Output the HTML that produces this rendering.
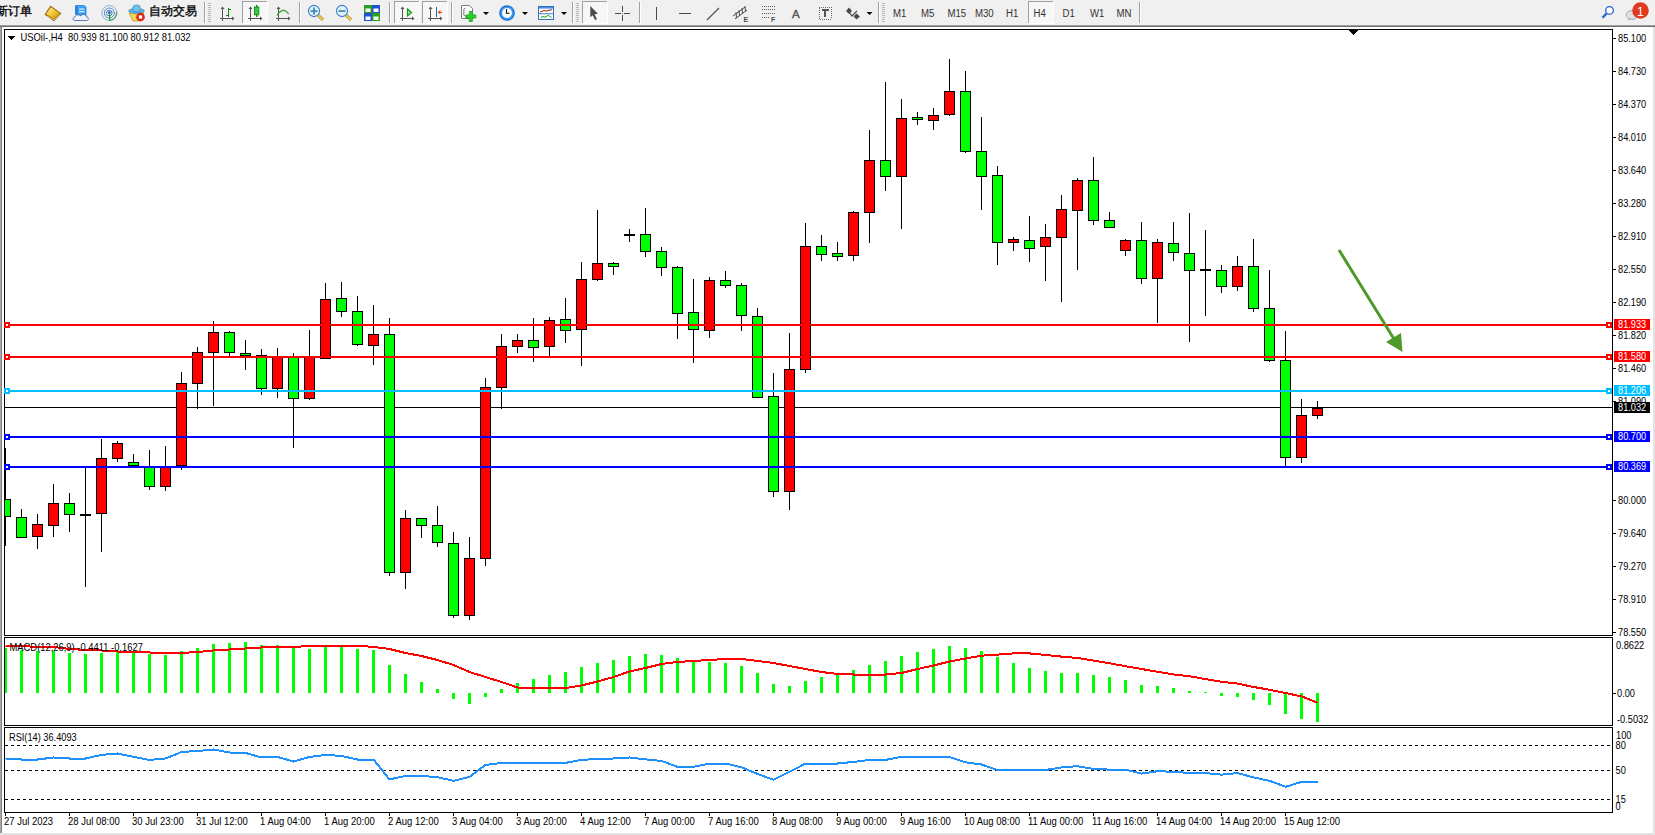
<!DOCTYPE html>
<html><head><meta charset="utf-8">
<style>
html,body{margin:0;padding:0;width:1655px;height:835px;overflow:hidden;background:#f0f0f0;}
svg{display:block;font-family:"Liberation Sans",sans-serif;}
.t{font-size:11px;fill:#000;}
</style></head><body>
<svg width="1655" height="835" viewBox="0 0 1655 835" shape-rendering="crispEdges">
<!-- toolbar -->
<rect x="0" y="0" width="1655" height="25" fill="#f0f0f0"/>
<g id="toolbar"><text x="-4" y="15" font-size="12" font-weight="600" fill="#1a1a1a">新订单</text>
<defs><linearGradient id="bk" x1="0" y1="0" x2="1" y2="1"><stop offset="0" stop-color="#fff0a0"/><stop offset="0.5" stop-color="#f0c830"/><stop offset="1" stop-color="#c89010"/></linearGradient></defs><g shape-rendering="auto"><polygon points="45,14.5 50.5,6 61,13.5 54,21" fill="#b07818" stroke="#9a6010" stroke-width="0.8"/><polygon points="46.3,14 50.8,7.3 59.5,13.3 54,18.8" fill="url(#bk)"/><polyline points="47,16 54,20 60,14.5" fill="none" stroke="#f8e0a0" stroke-width="0.7"/></g>
<g shape-rendering="auto"><polygon points="75.5,5.5 84,5.5 86,7 86,16 77.5,16 75.5,14" fill="#3aa0f8" stroke="#1a70d0" stroke-width="0.7"/><polygon points="75.5,5.5 77.5,7 77.5,16 75.5,14" fill="#1a80e8"/><rect x="79" y="8.5" width="5.5" height="1.2" fill="#d8f0ff"/><rect x="79" y="11" width="5.5" height="1.2" fill="#d8f0ff"/><path d="M75,20.5 C72.5,20.5 72.5,17 75,17 C75.5,14.5 79,14 80.5,16 C82,13.5 86.5,14 86.5,17 C89,17 89,20.5 86.5,20.5 Z" fill="#eef2fa" stroke="#4a6aa8" stroke-width="0.9"/></g>
<g shape-rendering="auto" fill="none"><circle cx="109.3" cy="13" r="7.5" stroke="#5a8ad0" stroke-width="0.9" opacity="0.7"/><circle cx="109.3" cy="13" r="5" stroke="#4a7ad0" stroke-width="0.9"/><circle cx="109.3" cy="13" r="2.8" stroke="#3a6ad0" stroke-width="0.9"/><path d="M110,20.5 A7.5,7.5 0 0 0 116.5,12" stroke="#60a860" stroke-width="1.5"/><circle cx="109.3" cy="12.6" r="1.3" fill="#1848c0"/><rect x="109" y="12.6" width="1.2" height="8.2" fill="#18a018"/></g>
<g shape-rendering="auto"><path d="M129,13 L144,13 L140,21 L133,21 Z" fill="#f0d850" stroke="#c0a030" stroke-width="0.8"/><ellipse cx="136.5" cy="11" rx="7.8" ry="2.6" fill="#60b0e0" stroke="#3a88c0" stroke-width="0.7"/><ellipse cx="136.5" cy="8.5" rx="4" ry="3.6" fill="#70c0f0" stroke="#3a88c0" stroke-width="0.7"/><circle cx="140.5" cy="17" r="4.3" fill="#e02010"/><rect x="138.8" y="15.3" width="3.4" height="3.4" fill="#fff"/></g>
<text x="148.5" y="15" font-size="12" font-weight="600" fill="#1a1a1a">自动交易</text>
<rect x="204" y="2" width="1" height="21" fill="#a0a0a0"/><rect x="205" y="2" width="1" height="21" fill="#ffffff"/>
<rect x="208" y="3" width="3" height="1" fill="#b8b8b8"/>
<rect x="208" y="5" width="3" height="1" fill="#b8b8b8"/>
<rect x="208" y="7" width="3" height="1" fill="#b8b8b8"/>
<rect x="208" y="9" width="3" height="1" fill="#b8b8b8"/>
<rect x="208" y="11" width="3" height="1" fill="#b8b8b8"/>
<rect x="208" y="13" width="3" height="1" fill="#b8b8b8"/>
<rect x="208" y="15" width="3" height="1" fill="#b8b8b8"/>
<rect x="208" y="17" width="3" height="1" fill="#b8b8b8"/>
<rect x="208" y="19" width="3" height="1" fill="#b8b8b8"/>
<rect x="208" y="21" width="3" height="1" fill="#b8b8b8"/>
<g fill="#555"><rect x="222" y="7" width="1" height="14"/><polygon points="220.5,9 222.5,6.5 224.5,9" shape-rendering="auto"/><rect x="220" y="18" width="14" height="1"/><polygon points="232,16.5 234.5,18.5 232,20.5" shape-rendering="auto"/></g>
<g fill="#108a10"><rect x="228" y="8" width="1" height="9"/><rect x="226" y="15" width="2" height="1"/><rect x="229" y="9" width="2" height="1"/></g>
<rect x="242" y="1" width="25" height="22" fill="#f7f7f7"/>
<rect x="242" y="1" width="25" height="1" fill="#a0a0a0"/>
<rect x="242" y="1" width="1" height="22" fill="#a0a0a0"/>
<rect x="267" y="1" width="1" height="23" fill="#ffffff"/>
<rect x="242" y="23" width="25" height="1" fill="#ffffff"/>
<g fill="#555"><rect x="250" y="7" width="1" height="14"/><polygon points="248.5,9 250.5,6.5 252.5,9" shape-rendering="auto"/><rect x="248" y="18" width="14" height="1"/><polygon points="260,16.5 262.5,18.5 260,20.5" shape-rendering="auto"/></g>
<g shape-rendering="auto"><rect x="256" y="5" width="1.4" height="12" fill="#108a10"/><rect x="254.5" y="7" width="4.3" height="7.8" fill="#30d040" stroke="#108a10" stroke-width="0.9"/></g>
<g fill="#555"><rect x="278" y="7" width="1" height="14"/><polygon points="276.5,9 278.5,6.5 280.5,9" shape-rendering="auto"/><rect x="276" y="18" width="14" height="1"/><polygon points="288,16.5 290.5,18.5 288,20.5" shape-rendering="auto"/></g>
<path d="M277,15.5 Q283,6 288.7,14" fill="none" stroke="#30a030" stroke-width="1.2" shape-rendering="auto"/>
<rect x="299" y="2" width="1" height="21" fill="#a0a0a0"/><rect x="300" y="2" width="1" height="21" fill="#ffffff"/>
<g shape-rendering="auto"><line x1="318" y1="15" x2="323" y2="19.8" stroke="#b08010" stroke-width="3"/><line x1="318" y1="15" x2="323" y2="19.8" stroke="#f0d860" stroke-width="1.6"/><circle cx="314" cy="11" r="5.6" fill="#dff2fc" stroke="#3a80c8" stroke-width="1.1"/><rect x="310.5" y="10.2" width="7" height="1.8" fill="#4a88b0"/><rect x="313.1" y="7.5" width="1.8" height="7" fill="#4a88b0"/></g>
<g shape-rendering="auto"><line x1="346" y1="15" x2="351" y2="19.8" stroke="#b08010" stroke-width="3"/><line x1="346" y1="15" x2="351" y2="19.8" stroke="#f0d860" stroke-width="1.6"/><circle cx="342" cy="11" r="5.6" fill="#dff2fc" stroke="#3a80c8" stroke-width="1.1"/><rect x="338.5" y="10.2" width="7" height="1.8" fill="#4a88b0"/></g>
<rect x="364" y="5" width="8" height="8" fill="#28a020"/><rect x="365.5" y="8.5" width="5" height="3.5" fill="#fff" shape-rendering="auto"/>
<rect x="372" y="5" width="8" height="8" fill="#2050d0"/><rect x="373.5" y="8.5" width="5" height="3.5" fill="#fff" shape-rendering="auto"/>
<rect x="364" y="13" width="8" height="8" fill="#2050d0"/><rect x="365.5" y="16.5" width="5" height="3.5" fill="#fff" shape-rendering="auto"/>
<rect x="372" y="13" width="8" height="8" fill="#28a020"/><rect x="373.5" y="16.5" width="5" height="3.5" fill="#fff" shape-rendering="auto"/>
<rect x="389" y="2" width="1" height="21" fill="#a0a0a0"/><rect x="390" y="2" width="1" height="21" fill="#ffffff"/>
<rect x="394" y="1" width="25" height="22" fill="#f7f7f7"/>
<rect x="394" y="1" width="25" height="1" fill="#a0a0a0"/>
<rect x="394" y="1" width="1" height="22" fill="#a0a0a0"/>
<rect x="419" y="1" width="1" height="23" fill="#ffffff"/>
<rect x="394" y="23" width="25" height="1" fill="#ffffff"/>
<g fill="#555"><rect x="402" y="7" width="1" height="14"/><polygon points="400.5,9 402.5,6.5 404.5,9" shape-rendering="auto"/><rect x="400" y="18" width="14" height="1"/><polygon points="412,16.5 414.5,18.5 412,20.5" shape-rendering="auto"/></g>
<polygon points="407.5,9 411.5,12.5 407.5,16" fill="#a0e0a0" stroke="#10a010" stroke-width="1.2" shape-rendering="auto"/>
<rect x="422" y="1" width="25" height="22" fill="#f7f7f7"/>
<rect x="422" y="1" width="25" height="1" fill="#a0a0a0"/>
<rect x="422" y="1" width="1" height="22" fill="#a0a0a0"/>
<rect x="447" y="1" width="1" height="23" fill="#ffffff"/>
<rect x="422" y="23" width="25" height="1" fill="#ffffff"/>
<g fill="#555"><rect x="430" y="7" width="1" height="14"/><polygon points="428.5,9 430.5,6.5 432.5,9" shape-rendering="auto"/><rect x="428" y="18" width="14" height="1"/><polygon points="440,16.5 442.5,18.5 440,20.5" shape-rendering="auto"/></g>
<rect x="435.7" y="7" width="1.3" height="10" fill="#1870b0"/><polygon points="437.5,12.3 440.5,10 440,11.7 442,11.7 442,12.9 440,12.9 440.5,14.6" fill="#e05010" shape-rendering="auto"/>
<rect x="451" y="2" width="1" height="21" fill="#a0a0a0"/><rect x="452" y="2" width="1" height="21" fill="#ffffff"/>
<g shape-rendering="auto"><path d="M461.5,5.5 L469.5,5.5 L472.5,8.5 L472.5,18.5 L461.5,18.5 Z" fill="#fafafa" stroke="#707070" stroke-width="0.9"/><path d="M465,8 Q463,9 464,12 Q463,14 464.5,16" fill="none" stroke="#555" stroke-width="0.8"/><path d="M469.3,11.5 h3 v3.5 h3.5 v3 h-3.5 v3.5 h-3 v-3.5 h-3.5 v-3 h3.5 Z" fill="#30d030" stroke="#10a010" stroke-width="0.8"/></g>
<polygon points="483,12 489,12 486,15" fill="#000" shape-rendering="auto"/>
<g shape-rendering="auto"><circle cx="507" cy="13" r="7.8" fill="#1a6cd0"/><circle cx="507" cy="13" r="6.6" fill="#3a9af0"/><circle cx="507" cy="13" r="5" fill="#f8f8f8"/><path d="M506.5,9 L506.5,13.3 L509.5,13.3" fill="none" stroke="#111" stroke-width="1.1"/></g>
<polygon points="522,12 528,12 525,15" fill="#000" shape-rendering="auto"/>
<g shape-rendering="auto"><rect x="538.5" y="6.5" width="15" height="13" fill="#fff" stroke="#3070c0" stroke-width="1"/><rect x="539" y="7" width="14" height="1.6" fill="#5090d8"/><rect x="539" y="13.3" width="14" height="0.9" fill="#3070c0"/><polyline points="540,12 542,11.5 544,10.3 546,11.2 548,10.5 550,10 552,9.8" fill="none" stroke="#a02010" stroke-width="1"/><polyline points="541,17.5 543,16.5 545,17.2 547,16 548.5,15.3 550,16.5 551.5,17.3" fill="none" stroke="#10a020" stroke-width="1"/></g>
<polygon points="561,12 567,12 564,15" fill="#000" shape-rendering="auto"/>
<rect x="572" y="2" width="1" height="21" fill="#a0a0a0"/><rect x="573" y="2" width="1" height="21" fill="#ffffff"/>
<rect x="576" y="3" width="3" height="1" fill="#b8b8b8"/>
<rect x="576" y="5" width="3" height="1" fill="#b8b8b8"/>
<rect x="576" y="7" width="3" height="1" fill="#b8b8b8"/>
<rect x="576" y="9" width="3" height="1" fill="#b8b8b8"/>
<rect x="576" y="11" width="3" height="1" fill="#b8b8b8"/>
<rect x="576" y="13" width="3" height="1" fill="#b8b8b8"/>
<rect x="576" y="15" width="3" height="1" fill="#b8b8b8"/>
<rect x="576" y="17" width="3" height="1" fill="#b8b8b8"/>
<rect x="576" y="19" width="3" height="1" fill="#b8b8b8"/>
<rect x="576" y="21" width="3" height="1" fill="#b8b8b8"/>
<rect x="582" y="1" width="25" height="22" fill="#f7f7f7"/>
<rect x="582" y="1" width="25" height="1" fill="#a0a0a0"/>
<rect x="582" y="1" width="1" height="22" fill="#a0a0a0"/>
<rect x="607" y="1" width="1" height="23" fill="#ffffff"/>
<rect x="582" y="23" width="25" height="1" fill="#ffffff"/>
<polygon points="590.3,5.9 597.9,13.7 594.6,14.2 596.9,19.3 595,20.1 592.7,15.2 590.3,17.2" fill="#4a4a4a" shape-rendering="auto"/>
<g fill="#4a4a4a"><rect x="615" y="13" width="6" height="1"/><rect x="624" y="13" width="6" height="1"/><rect x="622" y="6" width="1" height="6" /><rect x="622" y="15" width="1" height="6"/></g>
<rect x="622" y="13" width="1" height="1" fill="#888"/>
<rect x="639" y="2" width="1" height="21" fill="#a0a0a0"/><rect x="640" y="2" width="1" height="21" fill="#ffffff"/>
<rect x="656" y="7" width="1" height="13" fill="#4a4a4a"/>
<rect x="679" y="13" width="12" height="1" fill="#4a4a4a"/>
<line x1="707" y1="20" x2="719" y2="8" stroke="#4a4a4a" stroke-width="1.1" shape-rendering="auto"/>
<g shape-rendering="auto" stroke="#4a4a4a" stroke-width="1" fill="none"><line x1="733" y1="16" x2="745" y2="7"/><line x1="735" y1="19" x2="747" y2="10"/><line x1="736" y1="12" x2="736.5" y2="18"/><line x1="739" y1="10" x2="739.5" y2="16"/><line x1="742" y1="8" x2="742.5" y2="14"/><line x1="745" y1="6" x2="745.5" y2="11"/></g>
<text x="743.5" y="22" font-size="7" font-weight="bold" fill="#4a4a4a">E</text>
<g stroke="#5a5a5a" stroke-width="1" stroke-dasharray="1,1"><line x1="762" y1="6.5" x2="775" y2="6.5"/><line x1="762" y1="9.5" x2="775" y2="9.5"/><line x1="762" y1="13.5" x2="775" y2="13.5"/><line x1="762" y1="17.5" x2="770" y2="17.5"/></g>
<text x="771" y="22" font-size="7" font-weight="bold" fill="#4a4a4a">F</text>
<text x="792" y="18" font-size="11.5" fill="#555" stroke="#555" stroke-width="0.4">A</text>
<rect x="819" y="7" width="12" height="12" fill="none" stroke="#6a6a6a" stroke-width="1" stroke-dasharray="1,1"/><rect x="821.5" y="9" width="7" height="1.8" fill="#555"/><rect x="824.2" y="9" width="1.8" height="8" fill="#555"/>
<g shape-rendering="auto" fill="#4a4a4a"><polygon points="846,11 849,7.5 852,11 849,14"/><polyline points="849,12 852,16 857,11" fill="none" stroke="#4a4a4a" stroke-width="1.2"/><polygon points="853.5,16.5 856.5,13.5 860,16.5 856.5,19.5"/></g>
<polygon points="866.5,12 872.5,12 869.5,15" fill="#000" shape-rendering="auto"/>
<rect x="878" y="2" width="1" height="21" fill="#a0a0a0"/><rect x="879" y="2" width="1" height="21" fill="#ffffff"/>
<rect x="882" y="3" width="3" height="1" fill="#b8b8b8"/>
<rect x="882" y="5" width="3" height="1" fill="#b8b8b8"/>
<rect x="882" y="7" width="3" height="1" fill="#b8b8b8"/>
<rect x="882" y="9" width="3" height="1" fill="#b8b8b8"/>
<rect x="882" y="11" width="3" height="1" fill="#b8b8b8"/>
<rect x="882" y="13" width="3" height="1" fill="#b8b8b8"/>
<rect x="882" y="15" width="3" height="1" fill="#b8b8b8"/>
<rect x="882" y="17" width="3" height="1" fill="#b8b8b8"/>
<rect x="882" y="19" width="3" height="1" fill="#b8b8b8"/>
<rect x="882" y="21" width="3" height="1" fill="#b8b8b8"/>
<text transform="translate(893,17) scale(0.96,1)" font-size="10" fill="#333" >M1</text>
<text transform="translate(921,17) scale(0.96,1)" font-size="10" fill="#333" >M5</text>
<text transform="translate(947.5,17) scale(0.96,1)" font-size="10" fill="#333" >M15</text>
<text transform="translate(975,17) scale(0.96,1)" font-size="10" fill="#333" >M30</text>
<text transform="translate(1006,17) scale(0.96,1)" font-size="10" fill="#333" >H1</text>
<text transform="translate(1062.5,17) scale(0.96,1)" font-size="10" fill="#333" >D1</text>
<text transform="translate(1090,17) scale(0.96,1)" font-size="10" fill="#333" >W1</text>
<text transform="translate(1116.5,17) scale(0.96,1)" font-size="10" fill="#333" >MN</text>
<rect x="1028" y="1" width="25" height="22" fill="#f7f7f7"/>
<rect x="1028" y="1" width="25" height="1" fill="#a0a0a0"/>
<rect x="1028" y="1" width="1" height="22" fill="#a0a0a0"/>
<rect x="1053" y="1" width="1" height="23" fill="#ffffff"/>
<rect x="1028" y="23" width="25" height="1" fill="#ffffff"/>
<text transform="translate(1033.5,17) scale(0.96,1)" font-size="10" fill="#333" >H4</text>
<rect x="1139" y="2" width="1" height="21" fill="#a0a0a0"/><rect x="1140" y="2" width="1" height="21" fill="#ffffff"/>
<g shape-rendering="auto"><circle cx="1609.5" cy="10.4" r="3.8" fill="#fff" stroke="#2060d0" stroke-width="1.3"/><line x1="1606.5" y1="13.5" x2="1602.5" y2="17.8" stroke="#2060d0" stroke-width="2.2"/></g>
<g shape-rendering="auto"><ellipse cx="1632" cy="15" rx="5.8" ry="4.5" fill="#dde0e8" stroke="#9a9a9a" stroke-width="0.8"/><polygon points="1628,18 1630,18.5 1628.5,21" fill="#aaa"/><circle cx="1640.5" cy="10.5" r="8.3" fill="#e03a20"/><text x="1637" y="15.5" font-size="12" fill="#fff">1</text></g></g>
<rect x="0" y="25" width="1655" height="1" fill="#a0a0a0"/>
<rect x="0" y="26" width="1655" height="1" fill="#707070"/>
<!-- window frame -->
<rect x="0" y="27" width="1655" height="808" fill="#ffffff"/>
<rect x="0" y="27" width="1" height="807" fill="#a8a8a8"/>
<rect x="1" y="27" width="1" height="807" fill="#808080"/>
<rect x="1653" y="27" width="2" height="807" fill="#e3e3e3"/>
<rect x="0" y="833" width="1655" height="2" fill="#e3e3e3"/>
<!-- chart borders -->
<rect x="4.5" y="29.5" width="1608" height="606" fill="none" stroke="#000" stroke-width="1"/>
<rect x="4.5" y="637.5" width="1608" height="88" fill="none" stroke="#000" stroke-width="1"/>
<rect x="4.5" y="727.5" width="1608" height="85" fill="none" stroke="#000" stroke-width="1"/>
<svg x="5" y="30" width="1607" height="605" viewBox="5 30 1607 605" overflow="hidden">
<rect x="5" y="407" width="1608" height="1" fill="#000"/>
<rect x="5" y="448" width="1" height="98" fill="#000"/>
<rect x="0" y="499" width="11" height="18" fill="#000"/>
<rect x="1" y="500" width="9" height="16" fill="#00ff00"/>
<rect x="21" y="509" width="1" height="29" fill="#000"/>
<rect x="16" y="517" width="11" height="21" fill="#000"/>
<rect x="17" y="518" width="9" height="19" fill="#00ff00"/>
<rect x="37" y="514" width="1" height="35" fill="#000"/>
<rect x="32" y="524" width="11" height="13" fill="#000"/>
<rect x="33" y="525" width="9" height="11" fill="#ff0000"/>
<rect x="53" y="484" width="1" height="53" fill="#000"/>
<rect x="48" y="503" width="11" height="23" fill="#000"/>
<rect x="49" y="504" width="9" height="21" fill="#ff0000"/>
<rect x="69" y="493" width="1" height="39" fill="#000"/>
<rect x="64" y="503" width="11" height="12" fill="#000"/>
<rect x="65" y="504" width="9" height="10" fill="#00ff00"/>
<rect x="85" y="468" width="1" height="119" fill="#000"/>
<rect x="80" y="514" width="11" height="2" fill="#000"/>
<rect x="101" y="439" width="1" height="113" fill="#000"/>
<rect x="96" y="458" width="11" height="56" fill="#000"/>
<rect x="97" y="459" width="9" height="54" fill="#ff0000"/>
<rect x="117" y="441" width="1" height="21" fill="#000"/>
<rect x="112" y="443" width="11" height="16" fill="#000"/>
<rect x="113" y="444" width="9" height="14" fill="#ff0000"/>
<rect x="133" y="454" width="1" height="12" fill="#000"/>
<rect x="128" y="462" width="11" height="4" fill="#000"/>
<rect x="129" y="463" width="9" height="2" fill="#00ff00"/>
<rect x="149" y="450" width="1" height="40" fill="#000"/>
<rect x="144" y="467" width="11" height="20" fill="#000"/>
<rect x="145" y="468" width="9" height="18" fill="#00ff00"/>
<rect x="165" y="446" width="1" height="45" fill="#000"/>
<rect x="160" y="467" width="11" height="20" fill="#000"/>
<rect x="161" y="468" width="9" height="18" fill="#ff0000"/>
<rect x="181" y="372" width="1" height="98" fill="#000"/>
<rect x="176" y="383" width="11" height="83" fill="#000"/>
<rect x="177" y="384" width="9" height="81" fill="#ff0000"/>
<rect x="197" y="347" width="1" height="62" fill="#000"/>
<rect x="192" y="352" width="11" height="32" fill="#000"/>
<rect x="193" y="353" width="9" height="30" fill="#ff0000"/>
<rect x="213" y="321" width="1" height="85" fill="#000"/>
<rect x="208" y="332" width="11" height="21" fill="#000"/>
<rect x="209" y="333" width="9" height="19" fill="#ff0000"/>
<rect x="229" y="331" width="1" height="25" fill="#000"/>
<rect x="224" y="332" width="11" height="21" fill="#000"/>
<rect x="225" y="333" width="9" height="19" fill="#00ff00"/>
<rect x="245" y="340" width="1" height="30" fill="#000"/>
<rect x="240" y="353" width="11" height="3" fill="#000"/>
<rect x="241" y="354" width="9" height="1" fill="#00ff00"/>
<rect x="261" y="349" width="1" height="46" fill="#000"/>
<rect x="256" y="355" width="11" height="34" fill="#000"/>
<rect x="257" y="356" width="9" height="32" fill="#00ff00"/>
<rect x="277" y="348" width="1" height="50" fill="#000"/>
<rect x="272" y="356" width="11" height="33" fill="#000"/>
<rect x="273" y="357" width="9" height="31" fill="#ff0000"/>
<rect x="293" y="353" width="1" height="95" fill="#000"/>
<rect x="288" y="357" width="11" height="42" fill="#000"/>
<rect x="289" y="358" width="9" height="40" fill="#00ff00"/>
<rect x="309" y="330" width="1" height="70" fill="#000"/>
<rect x="304" y="356" width="11" height="43" fill="#000"/>
<rect x="305" y="357" width="9" height="41" fill="#ff0000"/>
<rect x="325" y="283" width="1" height="75" fill="#000"/>
<rect x="320" y="299" width="11" height="60" fill="#000"/>
<rect x="321" y="300" width="9" height="58" fill="#ff0000"/>
<rect x="341" y="282" width="1" height="35" fill="#000"/>
<rect x="336" y="298" width="11" height="14" fill="#000"/>
<rect x="337" y="299" width="9" height="12" fill="#00ff00"/>
<rect x="357" y="296" width="1" height="50" fill="#000"/>
<rect x="352" y="311" width="11" height="34" fill="#000"/>
<rect x="353" y="312" width="9" height="32" fill="#00ff00"/>
<rect x="373" y="305" width="1" height="60" fill="#000"/>
<rect x="368" y="334" width="11" height="12" fill="#000"/>
<rect x="369" y="335" width="9" height="10" fill="#ff0000"/>
<rect x="389" y="318" width="1" height="258" fill="#000"/>
<rect x="384" y="334" width="11" height="239" fill="#000"/>
<rect x="385" y="335" width="9" height="237" fill="#00ff00"/>
<rect x="405" y="510" width="1" height="79" fill="#000"/>
<rect x="400" y="518" width="11" height="55" fill="#000"/>
<rect x="401" y="519" width="9" height="53" fill="#ff0000"/>
<rect x="421" y="518" width="1" height="20" fill="#000"/>
<rect x="416" y="518" width="11" height="8" fill="#000"/>
<rect x="417" y="519" width="9" height="6" fill="#00ff00"/>
<rect x="437" y="506" width="1" height="41" fill="#000"/>
<rect x="432" y="525" width="11" height="18" fill="#000"/>
<rect x="433" y="526" width="9" height="16" fill="#00ff00"/>
<rect x="453" y="532" width="1" height="86" fill="#000"/>
<rect x="448" y="543" width="11" height="73" fill="#000"/>
<rect x="449" y="544" width="9" height="71" fill="#00ff00"/>
<rect x="469" y="537" width="1" height="83" fill="#000"/>
<rect x="464" y="558" width="11" height="58" fill="#000"/>
<rect x="465" y="559" width="9" height="56" fill="#ff0000"/>
<rect x="485" y="378" width="1" height="188" fill="#000"/>
<rect x="480" y="387" width="11" height="172" fill="#000"/>
<rect x="481" y="388" width="9" height="170" fill="#ff0000"/>
<rect x="501" y="334" width="1" height="75" fill="#000"/>
<rect x="496" y="346" width="11" height="42" fill="#000"/>
<rect x="497" y="347" width="9" height="40" fill="#ff0000"/>
<rect x="517" y="334" width="1" height="19" fill="#000"/>
<rect x="512" y="340" width="11" height="7" fill="#000"/>
<rect x="513" y="341" width="9" height="5" fill="#ff0000"/>
<rect x="533" y="318" width="1" height="44" fill="#000"/>
<rect x="528" y="340" width="11" height="8" fill="#000"/>
<rect x="529" y="341" width="9" height="6" fill="#00ff00"/>
<rect x="549" y="317" width="1" height="39" fill="#000"/>
<rect x="544" y="320" width="11" height="27" fill="#000"/>
<rect x="545" y="321" width="9" height="25" fill="#ff0000"/>
<rect x="565" y="298" width="1" height="45" fill="#000"/>
<rect x="560" y="319" width="11" height="12" fill="#000"/>
<rect x="561" y="320" width="9" height="10" fill="#00ff00"/>
<rect x="581" y="262" width="1" height="104" fill="#000"/>
<rect x="576" y="279" width="11" height="51" fill="#000"/>
<rect x="577" y="280" width="9" height="49" fill="#ff0000"/>
<rect x="597" y="210" width="1" height="71" fill="#000"/>
<rect x="592" y="263" width="11" height="17" fill="#000"/>
<rect x="593" y="264" width="9" height="15" fill="#ff0000"/>
<rect x="613" y="262" width="1" height="13" fill="#000"/>
<rect x="608" y="263" width="11" height="4" fill="#000"/>
<rect x="609" y="264" width="9" height="2" fill="#00ff00"/>
<rect x="629" y="229" width="1" height="13" fill="#000"/>
<rect x="624" y="234" width="11" height="2" fill="#000"/>
<rect x="645" y="208" width="1" height="49" fill="#000"/>
<rect x="640" y="234" width="11" height="18" fill="#000"/>
<rect x="641" y="235" width="9" height="16" fill="#00ff00"/>
<rect x="661" y="247" width="1" height="29" fill="#000"/>
<rect x="656" y="251" width="11" height="17" fill="#000"/>
<rect x="657" y="252" width="9" height="15" fill="#00ff00"/>
<rect x="677" y="266" width="1" height="73" fill="#000"/>
<rect x="672" y="267" width="11" height="47" fill="#000"/>
<rect x="673" y="268" width="9" height="45" fill="#00ff00"/>
<rect x="693" y="279" width="1" height="84" fill="#000"/>
<rect x="688" y="312" width="11" height="18" fill="#000"/>
<rect x="689" y="313" width="9" height="16" fill="#00ff00"/>
<rect x="709" y="277" width="1" height="61" fill="#000"/>
<rect x="704" y="280" width="11" height="51" fill="#000"/>
<rect x="705" y="281" width="9" height="49" fill="#ff0000"/>
<rect x="725" y="271" width="1" height="17" fill="#000"/>
<rect x="720" y="280" width="11" height="6" fill="#000"/>
<rect x="721" y="281" width="9" height="4" fill="#00ff00"/>
<rect x="741" y="283" width="1" height="48" fill="#000"/>
<rect x="736" y="285" width="11" height="31" fill="#000"/>
<rect x="737" y="286" width="9" height="29" fill="#00ff00"/>
<rect x="757" y="308" width="1" height="89" fill="#000"/>
<rect x="752" y="316" width="11" height="82" fill="#000"/>
<rect x="753" y="317" width="9" height="80" fill="#00ff00"/>
<rect x="773" y="373" width="1" height="124" fill="#000"/>
<rect x="768" y="396" width="11" height="96" fill="#000"/>
<rect x="769" y="397" width="9" height="94" fill="#00ff00"/>
<rect x="789" y="333" width="1" height="177" fill="#000"/>
<rect x="784" y="369" width="11" height="123" fill="#000"/>
<rect x="785" y="370" width="9" height="121" fill="#ff0000"/>
<rect x="805" y="223" width="1" height="150" fill="#000"/>
<rect x="800" y="246" width="11" height="124" fill="#000"/>
<rect x="801" y="247" width="9" height="122" fill="#ff0000"/>
<rect x="821" y="235" width="1" height="26" fill="#000"/>
<rect x="816" y="246" width="11" height="9" fill="#000"/>
<rect x="817" y="247" width="9" height="7" fill="#00ff00"/>
<rect x="837" y="242" width="1" height="19" fill="#000"/>
<rect x="832" y="253" width="11" height="4" fill="#000"/>
<rect x="833" y="254" width="9" height="2" fill="#00ff00"/>
<rect x="853" y="211" width="1" height="50" fill="#000"/>
<rect x="848" y="212" width="11" height="44" fill="#000"/>
<rect x="849" y="213" width="9" height="42" fill="#ff0000"/>
<rect x="869" y="130" width="1" height="113" fill="#000"/>
<rect x="864" y="160" width="11" height="53" fill="#000"/>
<rect x="865" y="161" width="9" height="51" fill="#ff0000"/>
<rect x="885" y="82" width="1" height="109" fill="#000"/>
<rect x="880" y="160" width="11" height="17" fill="#000"/>
<rect x="881" y="161" width="9" height="15" fill="#00ff00"/>
<rect x="901" y="99" width="1" height="130" fill="#000"/>
<rect x="896" y="118" width="11" height="59" fill="#000"/>
<rect x="897" y="119" width="9" height="57" fill="#ff0000"/>
<rect x="917" y="112" width="1" height="13" fill="#000"/>
<rect x="912" y="117" width="11" height="3" fill="#000"/>
<rect x="913" y="118" width="9" height="1" fill="#00ff00"/>
<rect x="933" y="108" width="1" height="22" fill="#000"/>
<rect x="928" y="115" width="11" height="6" fill="#000"/>
<rect x="929" y="116" width="9" height="4" fill="#ff0000"/>
<rect x="949" y="59" width="1" height="57" fill="#000"/>
<rect x="944" y="91" width="11" height="24" fill="#000"/>
<rect x="945" y="92" width="9" height="22" fill="#ff0000"/>
<rect x="965" y="71" width="1" height="82" fill="#000"/>
<rect x="960" y="91" width="11" height="61" fill="#000"/>
<rect x="961" y="92" width="9" height="59" fill="#00ff00"/>
<rect x="981" y="117" width="1" height="93" fill="#000"/>
<rect x="976" y="151" width="11" height="26" fill="#000"/>
<rect x="977" y="152" width="9" height="24" fill="#00ff00"/>
<rect x="997" y="166" width="1" height="99" fill="#000"/>
<rect x="992" y="175" width="11" height="68" fill="#000"/>
<rect x="993" y="176" width="9" height="66" fill="#00ff00"/>
<rect x="1013" y="237" width="1" height="14" fill="#000"/>
<rect x="1008" y="239" width="11" height="4" fill="#000"/>
<rect x="1009" y="240" width="9" height="2" fill="#ff0000"/>
<rect x="1029" y="216" width="1" height="46" fill="#000"/>
<rect x="1024" y="240" width="11" height="9" fill="#000"/>
<rect x="1025" y="241" width="9" height="7" fill="#00ff00"/>
<rect x="1045" y="224" width="1" height="57" fill="#000"/>
<rect x="1040" y="237" width="11" height="10" fill="#000"/>
<rect x="1041" y="238" width="9" height="8" fill="#ff0000"/>
<rect x="1061" y="195" width="1" height="107" fill="#000"/>
<rect x="1056" y="209" width="11" height="29" fill="#000"/>
<rect x="1057" y="210" width="9" height="27" fill="#ff0000"/>
<rect x="1077" y="178" width="1" height="92" fill="#000"/>
<rect x="1072" y="180" width="11" height="31" fill="#000"/>
<rect x="1073" y="181" width="9" height="29" fill="#ff0000"/>
<rect x="1093" y="157" width="1" height="68" fill="#000"/>
<rect x="1088" y="180" width="11" height="41" fill="#000"/>
<rect x="1089" y="181" width="9" height="39" fill="#00ff00"/>
<rect x="1109" y="212" width="1" height="15" fill="#000"/>
<rect x="1104" y="220" width="11" height="8" fill="#000"/>
<rect x="1105" y="221" width="9" height="6" fill="#00ff00"/>
<rect x="1125" y="239" width="1" height="17" fill="#000"/>
<rect x="1120" y="240" width="11" height="11" fill="#000"/>
<rect x="1121" y="241" width="9" height="9" fill="#ff0000"/>
<rect x="1141" y="222" width="1" height="62" fill="#000"/>
<rect x="1136" y="240" width="11" height="39" fill="#000"/>
<rect x="1137" y="241" width="9" height="37" fill="#00ff00"/>
<rect x="1157" y="239" width="1" height="84" fill="#000"/>
<rect x="1152" y="242" width="11" height="37" fill="#000"/>
<rect x="1153" y="243" width="9" height="35" fill="#ff0000"/>
<rect x="1173" y="222" width="1" height="39" fill="#000"/>
<rect x="1168" y="243" width="11" height="10" fill="#000"/>
<rect x="1169" y="244" width="9" height="8" fill="#00ff00"/>
<rect x="1189" y="213" width="1" height="129" fill="#000"/>
<rect x="1184" y="253" width="11" height="18" fill="#000"/>
<rect x="1185" y="254" width="9" height="16" fill="#00ff00"/>
<rect x="1205" y="230" width="1" height="86" fill="#000"/>
<rect x="1200" y="269" width="11" height="2" fill="#000"/>
<rect x="1221" y="265" width="1" height="28" fill="#000"/>
<rect x="1216" y="270" width="11" height="17" fill="#000"/>
<rect x="1217" y="271" width="9" height="15" fill="#00ff00"/>
<rect x="1237" y="256" width="1" height="35" fill="#000"/>
<rect x="1232" y="266" width="11" height="21" fill="#000"/>
<rect x="1233" y="267" width="9" height="19" fill="#ff0000"/>
<rect x="1253" y="239" width="1" height="73" fill="#000"/>
<rect x="1248" y="266" width="11" height="43" fill="#000"/>
<rect x="1249" y="267" width="9" height="41" fill="#00ff00"/>
<rect x="1269" y="270" width="1" height="92" fill="#000"/>
<rect x="1264" y="308" width="11" height="53" fill="#000"/>
<rect x="1265" y="309" width="9" height="51" fill="#00ff00"/>
<rect x="1285" y="331" width="1" height="135" fill="#000"/>
<rect x="1280" y="360" width="11" height="98" fill="#000"/>
<rect x="1281" y="361" width="9" height="96" fill="#00ff00"/>
<rect x="1301" y="399" width="1" height="64" fill="#000"/>
<rect x="1296" y="415" width="11" height="43" fill="#000"/>
<rect x="1297" y="416" width="9" height="41" fill="#ff0000"/>
<rect x="1317" y="401" width="1" height="18" fill="#000"/>
<rect x="1312" y="408" width="11" height="8" fill="#000"/>
<rect x="1313" y="409" width="9" height="6" fill="#ff0000"/>
<rect x="5" y="324" width="1608" height="2" fill="#ff0000"/>
<rect x="1606" y="322" width="6" height="6" fill="#ff0000"/><rect x="1608" y="324" width="2" height="2" fill="#fff"/>
<rect x="5" y="356" width="1608" height="2" fill="#ff0000"/>
<rect x="1606" y="354" width="6" height="6" fill="#ff0000"/><rect x="1608" y="356" width="2" height="2" fill="#fff"/>
<rect x="5" y="390" width="1608" height="2" fill="#00bfff"/>
<rect x="1606" y="388" width="6" height="6" fill="#00bfff"/><rect x="1608" y="390" width="2" height="2" fill="#fff"/>
<rect x="5" y="436" width="1608" height="2" fill="#0000ff"/>
<rect x="1606" y="434" width="6" height="6" fill="#0000ff"/><rect x="1608" y="436" width="2" height="2" fill="#fff"/>
<rect x="5" y="466" width="1608" height="2" fill="#0000ff"/>
<rect x="1606" y="464" width="6" height="6" fill="#0000ff"/><rect x="1608" y="466" width="2" height="2" fill="#fff"/>
<polygon points="1348,30 1358,30 1353,35" fill="#000"/>
<g shape-rendering="auto">
<line x1="1339" y1="250" x2="1394" y2="339" stroke="#4d9a2a" stroke-width="3"/>
<polygon points="1386,342 1401,333 1402.5,352" fill="#4d9a2a"/>
</g>
</svg>
<rect x="4" y="322" width="6" height="6" fill="#ff0000"/><rect x="6" y="324" width="2" height="2" fill="#fff"/>
<rect x="4" y="354" width="6" height="6" fill="#ff0000"/><rect x="6" y="356" width="2" height="2" fill="#fff"/>
<rect x="4" y="388" width="6" height="6" fill="#00bfff"/><rect x="6" y="390" width="2" height="2" fill="#fff"/>
<rect x="4" y="434" width="6" height="6" fill="#0000ff"/><rect x="6" y="436" width="2" height="2" fill="#fff"/>
<rect x="4" y="464" width="6" height="6" fill="#0000ff"/><rect x="6" y="466" width="2" height="2" fill="#fff"/>
<!-- MACD -->
<svg x="5" y="638" width="1607" height="87" viewBox="5 638 1607 87" overflow="hidden">
<rect x="4" y="648" width="3" height="45" fill="#00ff00"/>
<rect x="20" y="650" width="3" height="43" fill="#00ff00"/>
<rect x="36" y="651" width="3" height="42" fill="#00ff00"/>
<rect x="52" y="651" width="3" height="42" fill="#00ff00"/>
<rect x="68" y="653" width="3" height="40" fill="#00ff00"/>
<rect x="84" y="654" width="3" height="39" fill="#00ff00"/>
<rect x="100" y="653" width="3" height="40" fill="#00ff00"/>
<rect x="116" y="652" width="3" height="41" fill="#00ff00"/>
<rect x="132" y="653" width="3" height="40" fill="#00ff00"/>
<rect x="148" y="654" width="3" height="39" fill="#00ff00"/>
<rect x="164" y="655" width="3" height="38" fill="#00ff00"/>
<rect x="180" y="651" width="3" height="42" fill="#00ff00"/>
<rect x="196" y="648" width="3" height="45" fill="#00ff00"/>
<rect x="212" y="644" width="3" height="49" fill="#00ff00"/>
<rect x="228" y="643" width="3" height="50" fill="#00ff00"/>
<rect x="244" y="642" width="3" height="51" fill="#00ff00"/>
<rect x="260" y="645" width="3" height="48" fill="#00ff00"/>
<rect x="276" y="645" width="3" height="48" fill="#00ff00"/>
<rect x="292" y="648" width="3" height="45" fill="#00ff00"/>
<rect x="308" y="649" width="3" height="44" fill="#00ff00"/>
<rect x="324" y="647" width="3" height="46" fill="#00ff00"/>
<rect x="340" y="647" width="3" height="46" fill="#00ff00"/>
<rect x="356" y="649" width="3" height="44" fill="#00ff00"/>
<rect x="372" y="650" width="3" height="43" fill="#00ff00"/>
<rect x="388" y="665" width="3" height="28" fill="#00ff00"/>
<rect x="404" y="674" width="3" height="19" fill="#00ff00"/>
<rect x="420" y="682" width="3" height="11" fill="#00ff00"/>
<rect x="436" y="689" width="3" height="4" fill="#00ff00"/>
<rect x="452" y="693" width="3" height="6" fill="#00ff00"/>
<rect x="468" y="693" width="3" height="11" fill="#00ff00"/>
<rect x="484" y="693" width="3" height="4" fill="#00ff00"/>
<rect x="500" y="689" width="3" height="4" fill="#00ff00"/>
<rect x="516" y="683" width="3" height="10" fill="#00ff00"/>
<rect x="532" y="679" width="3" height="14" fill="#00ff00"/>
<rect x="548" y="675" width="3" height="18" fill="#00ff00"/>
<rect x="564" y="672" width="3" height="21" fill="#00ff00"/>
<rect x="580" y="667" width="3" height="26" fill="#00ff00"/>
<rect x="596" y="663" width="3" height="30" fill="#00ff00"/>
<rect x="612" y="660" width="3" height="33" fill="#00ff00"/>
<rect x="628" y="656" width="3" height="37" fill="#00ff00"/>
<rect x="644" y="654" width="3" height="39" fill="#00ff00"/>
<rect x="660" y="655" width="3" height="38" fill="#00ff00"/>
<rect x="676" y="658" width="3" height="35" fill="#00ff00"/>
<rect x="692" y="662" width="3" height="31" fill="#00ff00"/>
<rect x="708" y="662" width="3" height="31" fill="#00ff00"/>
<rect x="724" y="663" width="3" height="30" fill="#00ff00"/>
<rect x="740" y="666" width="3" height="27" fill="#00ff00"/>
<rect x="756" y="673" width="3" height="20" fill="#00ff00"/>
<rect x="772" y="684" width="3" height="9" fill="#00ff00"/>
<rect x="788" y="686" width="3" height="7" fill="#00ff00"/>
<rect x="804" y="681" width="3" height="12" fill="#00ff00"/>
<rect x="820" y="677" width="3" height="16" fill="#00ff00"/>
<rect x="836" y="675" width="3" height="18" fill="#00ff00"/>
<rect x="852" y="670" width="3" height="23" fill="#00ff00"/>
<rect x="868" y="665" width="3" height="28" fill="#00ff00"/>
<rect x="884" y="661" width="3" height="32" fill="#00ff00"/>
<rect x="900" y="656" width="3" height="37" fill="#00ff00"/>
<rect x="916" y="652" width="3" height="41" fill="#00ff00"/>
<rect x="932" y="649" width="3" height="44" fill="#00ff00"/>
<rect x="948" y="646" width="3" height="47" fill="#00ff00"/>
<rect x="964" y="648" width="3" height="45" fill="#00ff00"/>
<rect x="980" y="651" width="3" height="42" fill="#00ff00"/>
<rect x="996" y="657" width="3" height="36" fill="#00ff00"/>
<rect x="1012" y="663" width="3" height="30" fill="#00ff00"/>
<rect x="1028" y="668" width="3" height="25" fill="#00ff00"/>
<rect x="1044" y="671" width="3" height="22" fill="#00ff00"/>
<rect x="1060" y="673" width="3" height="20" fill="#00ff00"/>
<rect x="1076" y="673" width="3" height="20" fill="#00ff00"/>
<rect x="1092" y="675" width="3" height="18" fill="#00ff00"/>
<rect x="1108" y="677" width="3" height="16" fill="#00ff00"/>
<rect x="1124" y="680" width="3" height="13" fill="#00ff00"/>
<rect x="1140" y="685" width="3" height="8" fill="#00ff00"/>
<rect x="1156" y="686" width="3" height="7" fill="#00ff00"/>
<rect x="1172" y="688" width="3" height="5" fill="#00ff00"/>
<rect x="1188" y="691" width="3" height="2" fill="#00ff00"/>
<rect x="1204" y="692" width="3" height="1" fill="#00ff00"/>
<rect x="1220" y="693" width="3" height="3" fill="#00ff00"/>
<rect x="1236" y="693" width="3" height="4" fill="#00ff00"/>
<rect x="1252" y="693" width="3" height="7" fill="#00ff00"/>
<rect x="1268" y="693" width="3" height="12" fill="#00ff00"/>
<rect x="1284" y="693" width="3" height="21" fill="#00ff00"/>
<rect x="1300" y="693" width="3" height="26" fill="#00ff00"/>
<rect x="1316" y="693" width="3" height="29" fill="#00ff00"/>
<polyline points="5.5,646 53.5,647 69.5,649 85.5,650 101.5,650.5 117.5,651.5 133.5,652 149.5,652.5 165.5,653 181.5,653 197.5,652 213.5,650.5 229.5,649.5 245.5,648.5 261.5,647.5 277.5,647 293.5,647 309.5,646 325.5,645.6 357.5,645.6 373.5,647 389.5,649 405.5,653 421.5,656 437.5,660 453.5,665 469.5,672 485.5,677 501.5,682 517.5,687.5 533.5,688 565.5,688 581.5,685.5 597.5,681.5 613.5,677 629.5,671.5 645.5,668 661.5,664 677.5,662 709.5,660 725.5,659 741.5,659 757.5,661 773.5,663 789.5,666 805.5,669 821.5,672 837.5,674 853.5,674.5 885.5,674.5 901.5,673 917.5,669 933.5,665.5 949.5,661.5 965.5,658.5 981.5,655.7 997.5,654.6 1013.5,653.4 1029.5,653.4 1045.5,655 1061.5,656.6 1077.5,658 1093.5,660.6 1109.5,663.3 1125.5,666.2 1141.5,669 1157.5,671.8 1173.5,674.5 1189.5,676.2 1205.5,679.1 1221.5,681.8 1237.5,683.6 1253.5,687 1269.5,689.7 1285.5,693 1301.5,696.4 1317.5,702.6" fill="none" stroke="#ff0000" stroke-width="2"/>
</svg>
<text transform="translate(9.5,650.5) scale(0.94,1)" font-size="10" fill="#000" >MACD(12,26,9) -0.4411 -0.1627</text>
<!-- RSI -->
<svg x="5" y="728" width="1607" height="84" viewBox="5 728 1607 84" overflow="hidden">
<line x1="5" y1="745.5" x2="1612" y2="745.5" stroke="#000" stroke-dasharray="3,3" stroke-width="1"/>
<line x1="5" y1="770.5" x2="1612" y2="770.5" stroke="#000" stroke-dasharray="3,3" stroke-width="1"/>
<line x1="5" y1="799.5" x2="1612" y2="799.5" stroke="#000" stroke-dasharray="3,3" stroke-width="1"/>
<polyline points="5.5,758.5 21.5,759.5 37.5,759.5 53.5,757.5 69.5,758.5 85.5,758.5 101.5,754.9 117.5,753.5 133.5,756.9 149.5,759.9 165.5,758.5 181.5,752 197.5,751 213.5,749.5 229.5,752.5 245.5,752.9 261.5,757.5 277.5,756.9 293.5,761.5 309.5,756.9 325.5,754.9 341.5,755.9 357.5,759.5 373.5,759.5 389.5,779.4 405.5,775.9 421.5,775.9 437.5,777.2 453.5,780.8 469.5,776.8 485.5,764.9 501.5,762.9 517.5,762.9 533.5,762.9 549.5,762.9 565.5,762.9 581.5,759.9 597.5,758.9 613.5,758.5 629.5,757.5 645.5,759.4 661.5,760.9 677.5,766.9 693.5,766.9 709.5,763.5 725.5,763.5 741.5,767.3 757.5,773.9 773.5,779.8 789.5,771.9 805.5,763.5 821.5,763.5 837.5,763.5 853.5,761.9 869.5,759.9 885.5,759.9 901.5,756.9 917.5,756.9 933.5,756.9 949.5,756.9 965.5,762.3 981.5,764.5 997.5,770 1013.5,770 1029.5,770 1045.5,770 1061.5,767.4 1077.5,766.2 1093.5,768.9 1109.5,769.6 1125.5,769.6 1141.5,773.6 1157.5,771.2 1173.5,771.8 1189.5,773 1205.5,773 1221.5,774.7 1237.5,773 1253.5,777.4 1269.5,780.8 1285.5,786.8 1301.5,781.9 1317.5,781.9" fill="none" stroke="#1e90ff" stroke-width="2"/>
</svg>
<text transform="translate(9,741) scale(0.924,1)" font-size="10" fill="#000" >RSI(14) 36.4093</text>
<text transform="translate(20.5,41) scale(0.94,1)" font-size="10" fill="#000" >USOil-,H4&#160; 80.939 81.100 80.912 81.032</text>
<polygon points="8,36 15,36 11.5,40" fill="#000"/>
<!-- price axis -->
<g>
<rect x="1613" y="38" width="3" height="1" fill="#000"/>
<text transform="translate(1618,42) scale(0.924,1)" font-size="10" fill="#000" >85.100</text>
<rect x="1613" y="71" width="3" height="1" fill="#000"/>
<text transform="translate(1618,75) scale(0.924,1)" font-size="10" fill="#000" >84.730</text>
<rect x="1613" y="104" width="3" height="1" fill="#000"/>
<text transform="translate(1618,108) scale(0.924,1)" font-size="10" fill="#000" >84.370</text>
<rect x="1613" y="137" width="3" height="1" fill="#000"/>
<text transform="translate(1618,141) scale(0.924,1)" font-size="10" fill="#000" >84.010</text>
<rect x="1613" y="170" width="3" height="1" fill="#000"/>
<text transform="translate(1618,174) scale(0.924,1)" font-size="10" fill="#000" >83.640</text>
<rect x="1613" y="203" width="3" height="1" fill="#000"/>
<text transform="translate(1618,207) scale(0.924,1)" font-size="10" fill="#000" >83.280</text>
<rect x="1613" y="236" width="3" height="1" fill="#000"/>
<text transform="translate(1618,240) scale(0.924,1)" font-size="10" fill="#000" >82.910</text>
<rect x="1613" y="269" width="3" height="1" fill="#000"/>
<text transform="translate(1618,273) scale(0.924,1)" font-size="10" fill="#000" >82.550</text>
<rect x="1613" y="302" width="3" height="1" fill="#000"/>
<text transform="translate(1618,306) scale(0.924,1)" font-size="10" fill="#000" >82.190</text>
<rect x="1613" y="335" width="3" height="1" fill="#000"/>
<text transform="translate(1618,339) scale(0.924,1)" font-size="10" fill="#000" >81.820</text>
<rect x="1613" y="368" width="3" height="1" fill="#000"/>
<text transform="translate(1618,372) scale(0.924,1)" font-size="10" fill="#000" >81.460</text>
<rect x="1613" y="401" width="3" height="1" fill="#000"/>
<text transform="translate(1618,405) scale(0.924,1)" font-size="10" fill="#000" >81.090</text>
<rect x="1613" y="500" width="3" height="1" fill="#000"/>
<text transform="translate(1618,504) scale(0.924,1)" font-size="10" fill="#000" >80.000</text>
<rect x="1613" y="533" width="3" height="1" fill="#000"/>
<text transform="translate(1618,537) scale(0.924,1)" font-size="10" fill="#000" >79.640</text>
<rect x="1613" y="566" width="3" height="1" fill="#000"/>
<text transform="translate(1618,570) scale(0.924,1)" font-size="10" fill="#000" >79.270</text>
<rect x="1613" y="599" width="3" height="1" fill="#000"/>
<text transform="translate(1618,603) scale(0.924,1)" font-size="10" fill="#000" >78.910</text>
<rect x="1613" y="632" width="3" height="1" fill="#000"/>
<text transform="translate(1618,636) scale(0.924,1)" font-size="10" fill="#000" >78.550</text>
<rect x="1614" y="319" width="36" height="11" fill="#ff0000"/><text transform="translate(1618,328) scale(0.924,1)" font-size="10" fill="#fff" >81.933</text>
<rect x="1614" y="351" width="36" height="11" fill="#ff0000"/><text transform="translate(1618,360) scale(0.924,1)" font-size="10" fill="#fff" >81.580</text>
<rect x="1614" y="385" width="36" height="11" fill="#00bfff"/><text transform="translate(1618,394) scale(0.924,1)" font-size="10" fill="#fff" >81.206</text>
<rect x="1614" y="431" width="36" height="11" fill="#0000ff"/><text transform="translate(1618,440) scale(0.924,1)" font-size="10" fill="#fff" >80.700</text>
<rect x="1614" y="461" width="36" height="11" fill="#0000ff"/><text transform="translate(1618,470) scale(0.924,1)" font-size="10" fill="#fff" >80.369</text>
<rect x="1614" y="402" width="36" height="11" fill="#000"/><text transform="translate(1618,411) scale(0.924,1)" font-size="10" fill="#fff" >81.032</text>
<text transform="translate(1616,649) scale(0.924,1)" font-size="10" fill="#000" >0.8622</text>
<rect x="1613" y="693" width="3" height="1" fill="#000"/><text transform="translate(1617,697) scale(0.924,1)" font-size="10" fill="#000" >0.00</text>
<text transform="translate(1617,723) scale(0.924,1)" font-size="10" fill="#000" >-0.5032</text>
<text transform="translate(1616,739) scale(0.924,1)" font-size="10" fill="#000" >100</text>
<text transform="translate(1615.5,749) scale(0.924,1)" font-size="10" fill="#000" >80</text>
<text transform="translate(1615.5,774) scale(0.924,1)" font-size="10" fill="#000" >50</text>
<text transform="translate(1615.5,803) scale(0.924,1)" font-size="10" fill="#000" >15</text>
<text transform="translate(1615.5,810) scale(0.924,1)" font-size="10" fill="#000" >0</text>
</g>
<g>
<rect x="5" y="813" width="1" height="3" fill="#000"/>
<text transform="translate(4,825) scale(0.95,1)" font-size="10" fill="#000" >27 Jul 2023</text>
<rect x="69" y="813" width="1" height="3" fill="#000"/>
<text transform="translate(68,825) scale(0.95,1)" font-size="10" fill="#000" >28 Jul 08:00</text>
<rect x="133" y="813" width="1" height="3" fill="#000"/>
<text transform="translate(132,825) scale(0.95,1)" font-size="10" fill="#000" >30 Jul 23:00</text>
<rect x="197" y="813" width="1" height="3" fill="#000"/>
<text transform="translate(196,825) scale(0.95,1)" font-size="10" fill="#000" >31 Jul 12:00</text>
<rect x="261" y="813" width="1" height="3" fill="#000"/>
<text transform="translate(260,825) scale(0.95,1)" font-size="10" fill="#000" >1 Aug 04:00</text>
<rect x="325" y="813" width="1" height="3" fill="#000"/>
<text transform="translate(324,825) scale(0.95,1)" font-size="10" fill="#000" >1 Aug 20:00</text>
<rect x="389" y="813" width="1" height="3" fill="#000"/>
<text transform="translate(388,825) scale(0.95,1)" font-size="10" fill="#000" >2 Aug 12:00</text>
<rect x="453" y="813" width="1" height="3" fill="#000"/>
<text transform="translate(452,825) scale(0.95,1)" font-size="10" fill="#000" >3 Aug 04:00</text>
<rect x="517" y="813" width="1" height="3" fill="#000"/>
<text transform="translate(516,825) scale(0.95,1)" font-size="10" fill="#000" >3 Aug 20:00</text>
<rect x="581" y="813" width="1" height="3" fill="#000"/>
<text transform="translate(580,825) scale(0.95,1)" font-size="10" fill="#000" >4 Aug 12:00</text>
<rect x="645" y="813" width="1" height="3" fill="#000"/>
<text transform="translate(644,825) scale(0.95,1)" font-size="10" fill="#000" >7 Aug 00:00</text>
<rect x="709" y="813" width="1" height="3" fill="#000"/>
<text transform="translate(708,825) scale(0.95,1)" font-size="10" fill="#000" >7 Aug 16:00</text>
<rect x="773" y="813" width="1" height="3" fill="#000"/>
<text transform="translate(772,825) scale(0.95,1)" font-size="10" fill="#000" >8 Aug 08:00</text>
<rect x="837" y="813" width="1" height="3" fill="#000"/>
<text transform="translate(836,825) scale(0.95,1)" font-size="10" fill="#000" >9 Aug 00:00</text>
<rect x="901" y="813" width="1" height="3" fill="#000"/>
<text transform="translate(900,825) scale(0.95,1)" font-size="10" fill="#000" >9 Aug 16:00</text>
<rect x="965" y="813" width="1" height="3" fill="#000"/>
<text transform="translate(964,825) scale(0.95,1)" font-size="10" fill="#000" >10 Aug 08:00</text>
<rect x="1029" y="813" width="1" height="3" fill="#000"/>
<text transform="translate(1028,825) scale(0.95,1)" font-size="10" fill="#000" >11 Aug 00:00</text>
<rect x="1093" y="813" width="1" height="3" fill="#000"/>
<text transform="translate(1092,825) scale(0.95,1)" font-size="10" fill="#000" >11 Aug 16:00</text>
<rect x="1157" y="813" width="1" height="3" fill="#000"/>
<text transform="translate(1156,825) scale(0.95,1)" font-size="10" fill="#000" >14 Aug 04:00</text>
<rect x="1221" y="813" width="1" height="3" fill="#000"/>
<text transform="translate(1220,825) scale(0.95,1)" font-size="10" fill="#000" >14 Aug 20:00</text>
<rect x="1285" y="813" width="1" height="3" fill="#000"/>
<text transform="translate(1284,825) scale(0.95,1)" font-size="10" fill="#000" >15 Aug 12:00</text>
</g>
</svg>
</body></html>
